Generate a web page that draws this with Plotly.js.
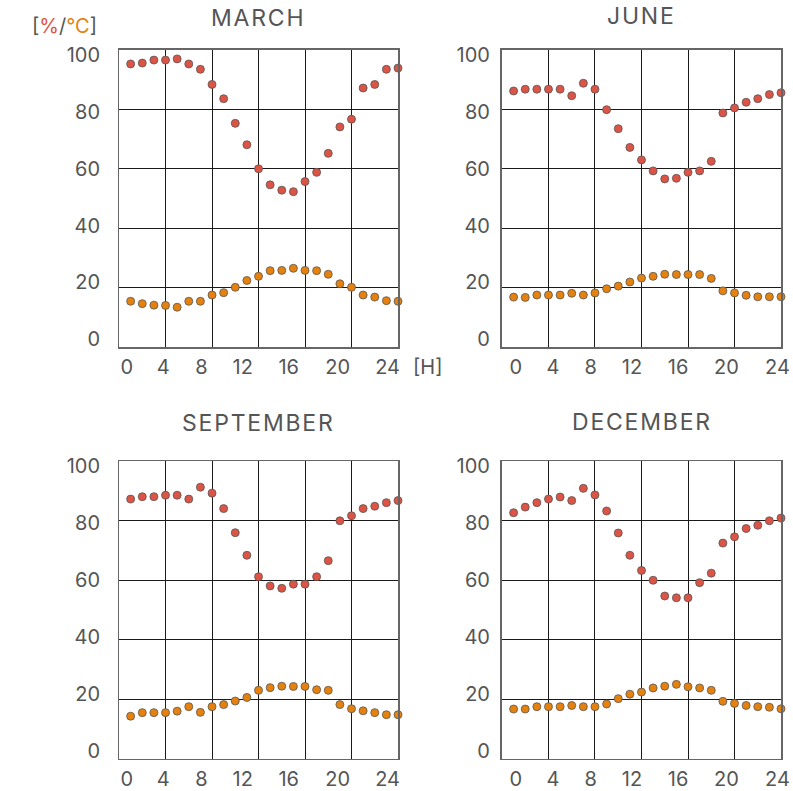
<!DOCTYPE html>
<html>
<head>
<meta charset="utf-8">
<script src="https://cdn.plot.ly/plotly-3.0.1.min.js"></script>
<style>html,body{margin:0;padding:0;background:#fff;}#chart{width:793px;height:791px;}</style>
</head>
<body>
<div id="chart"></div>
<script>
// ---- data ----
const hours = [1,2,3,4,5,6,7,8,9,10,11,12,13,14,15,16,17,18,19,20,21,22,23,24];
const months = ["MARCH","JUNE","SEPTEMBER","DECEMBER"];

const marchHumidity = [95.3,95.6,96.6,96.6,97.0,95.3,93.5,88.4,83.6,75.3,68.1,60.0,54.6,52.8,52.3,55.7,58.8,65.2,74.1,76.7,87.2,88.4,93.5,93.9];
const marchTemp     = [15.4,14.6,14.1,14.0,13.4,15.4,15.4,17.5,18.3,20.1,22.4,23.8,25.7,25.8,26.5,25.8,25.7,24.5,21.3,20.1,17.5,16.8,15.6,15.4];

const juneHumidity  = [86.2,86.8,86.8,86.8,86.8,84.6,88.8,86.8,79.9,73.5,67.2,63.0,59.3,56.6,56.8,58.8,59.3,62.5,78.8,80.5,82.4,83.6,85.0,85.6];
const juneTemp      = [16.8,16.7,17.5,17.5,17.5,18.1,17.5,18.2,19.6,20.5,21.9,23.2,23.8,24.5,24.4,24.4,24.4,23.1,18.9,18.2,17.4,16.9,16.9,16.9];

const septHumidity  = [87.3,88.1,88.1,88.6,88.6,87.3,91.3,89.3,84.1,76.0,68.4,61.2,58.1,57.3,58.7,58.7,61.2,66.6,80.0,81.7,84.1,84.9,86.1,86.8];
const septTemp      = [14.3,15.5,15.5,15.5,16.0,17.5,15.6,17.5,18.2,19.4,20.6,23.0,23.9,24.4,24.3,24.3,23.2,23.0,18.2,16.8,16.1,15.5,14.8,14.8];

const decHumidity   = [82.7,84.6,86.1,87.3,88.0,86.8,90.9,88.7,83.3,75.9,68.4,63.3,60.0,54.7,54.1,54.1,59.2,62.4,72.5,74.6,77.4,78.5,80.0,80.9];
const decTemp       = [16.7,16.7,17.5,17.5,17.5,17.9,17.5,17.5,18.4,20.2,21.7,22.4,23.8,24.4,25.0,24.2,23.8,23.0,19.3,18.6,17.9,17.5,17.3,16.8];

const xTickText = ["0","4","8","12","16","20","24"];
const yTickText = ["0","20","40","60","80","100"];

// ---- layout constants ----
const RED = "#dc5446", ORANGE = "#e5820f", TXT = "#555555";
const FONT = "Inter, 'Noto Sans', sans-serif";
// label positions along the hour axis (labels in the reference are not under the grid lines)
const xLabelPosLeft  = [0.66, 3.81, 7.08, 10.64, 14.6, 18.81, 23.1];
const xLabelPosRight = [1.18, 4.39, 7.63, 11.18, 15.14, 19.3, 23.69];

const panels = [
  {name: months[0], hum: marchHumidity, tmp: marchTemp, xd: [0.1501, 0.5019], yd: [0.5613, 0.9368], xl: xLabelPosLeft,  ystand: 18},
  {name: months[1], hum: juneHumidity,  tmp: juneTemp,  xd: [0.6330, 0.9849], yd: [0.5613, 0.9368], xl: xLabelPosRight, ystand: 11},
  {name: months[2], hum: septHumidity,  tmp: septTemp,  xd: [0.1501, 0.5019], yd: [0.0408, 0.4168], xl: xLabelPosLeft,  ystand: 18},
  {name: months[3], hum: decHumidity,   tmp: decTemp,   xd: [0.6330, 0.9849], yd: [0.0408, 0.4168], xl: xLabelPosRight, ystand: 11}
];

const traces = [];
const layout = {
  width: 793, height: 791,
  margin: {l: 0, r: 0, t: 0, b: 0},
  paper_bgcolor: "#fff", plot_bgcolor: "#fff",
  showlegend: false,
  font: {family: FONT, color: TXT, size: 20},
  annotations: []
};

const mk = (c) => ({size: 8, color: c, line: {color: "#555", width: 0.8}});

panels.forEach((p, i) => {
  const n = i + 1, m = i + 5;
  const xa = "x" + n, ya = "y" + n, xo = "x" + m, yo = "y" + m;
  traces.push({type: "scatter", mode: "markers", x: hours, y: p.hum, xaxis: xa, yaxis: ya,
               marker: mk(RED), cliponaxis: false, hoverinfo: "skip"});
  traces.push({type: "scatter", mode: "markers", x: hours, y: p.tmp, xaxis: xa, yaxis: ya,
               marker: mk(ORANGE), cliponaxis: false, hoverinfo: "skip"});
  traces.push({type: "scatter", mode: "markers", x: [], y: [], xaxis: xo, yaxis: yo, hoverinfo: "skip"});

  layout["xaxis" + n] = {domain: p.xd, anchor: ya, range: [0, 24], dtick: 4, tick0: 0,
    showgrid: true, gridcolor: "#1a1a1a", gridwidth: 1, zeroline: false,
    showline: true, mirror: true, linecolor: "#666", linewidth: 1.5,
    showticklabels: false, ticks: "", fixedrange: true};
  layout["yaxis" + n] = {domain: p.yd, anchor: xa, range: [0, 100], dtick: 20, tick0: 0,
    showgrid: true, gridcolor: "#1a1a1a", gridwidth: 1, zeroline: false,
    showline: true, mirror: true, linecolor: "#666", linewidth: 1.5,
    showticklabels: false, ticks: "", fixedrange: true};

  layout["xaxis" + m] = {overlaying: xa, anchor: yo, side: "bottom", range: [0, 24],
    tickmode: "array", tickvals: p.xl, ticktext: xTickText,
    showgrid: false, zeroline: false, showline: false, ticks: "",
    tickfont: {family: FONT, size: 20, color: TXT}, ticklabelstandoff: 6, fixedrange: true};
  layout["yaxis" + m] = {overlaying: ya, anchor: xo, side: "left", range: [-2.7, 101.8],
    tickmode: "array", tickvals: [0,20,40,60,80,100], ticktext: yTickText,
    showgrid: false, zeroline: false, showline: false, ticks: "",
    tickfont: {family: FONT, size: 20, color: TXT}, ticklabelstandoff: p.ystand, fixedrange: true};
});

const titlePos = [[258, 18], [641, 16], [258, 423], [642, 422]];
panels.forEach((p, i) => {
  layout.annotations.push({text: '<span style="letter-spacing:1.8px">' + p.name + '</span>', xref: "paper", yref: "paper",
    x: titlePos[i][0] / 793, y: 1 - titlePos[i][1] / 791, xanchor: "center", yanchor: "middle",
    showarrow: false, font: {family: FONT, size: 23, color: TXT, weight: 400}});
});
layout.annotations.push({text: '[<span style="color:' + RED + '">%</span>/<span style="color:' + ORANGE + '">°C</span>]',
  xref: "paper", yref: "paper", x: 64 / 793, y: 1 - 26 / 791, xanchor: "center", yanchor: "middle",
  showarrow: false, font: {family: FONT, size: 20, color: TXT}});
layout.annotations.push({text: "[H]", xref: "paper", yref: "paper", x: 427 / 793, y: 1 - 367 / 791,
  xanchor: "center", yanchor: "middle", showarrow: false, font: {family: FONT, size: 20, color: TXT}});

Plotly.newPlot("chart", traces, layout, {staticPlot: true, displayModeBar: false});
</script>
</body>
</html>
